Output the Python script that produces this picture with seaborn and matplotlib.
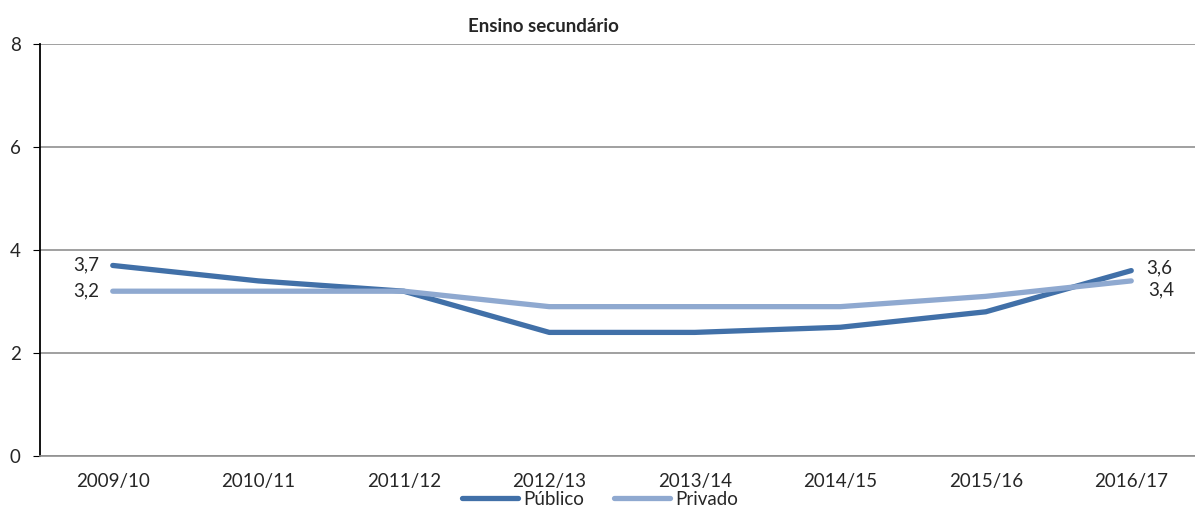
import pandas as pd
import seaborn as sns
import matplotlib.pyplot as plt
from matplotlib.ticker import FixedLocator

# Data
anos = ['2009/10', '2010/11', '2011/12', '2012/13', '2013/14', '2014/15', '2015/16', '2016/17']
publico = [3.7, 3.4, 3.2, 2.4, 2.4, 2.5, 2.8, 3.6]
privado = [3.2, 3.2, 3.2, 2.9, 2.9, 2.9, 3.1, 3.4]

df = pd.DataFrame({
    'pos': list(range(len(anos))) * 2,
    'valor': publico + privado,
    'setor': ['Público'] * len(anos) + ['Privado'] * len(anos),
})

sns.set_style('white')
plt.rcParams['font.family'] = ['Lato', 'DejaVu Sans']

fig = plt.figure(figsize=(11.95, 5.11), dpi=100)
ax = fig.add_axes([40 / 1195, 55 / 511, 1164 / 1195, 412 / 511])

sns.lineplot(data=df, x='pos', y='valor', hue='setor',
             palette={'Público': '#4170a8', 'Privado': '#8fa9d0'},
             linewidth=3.8, ax=ax, legend=False, zorder=3)
for line in ax.get_lines():
    line.set_solid_capstyle('round')
    line.set_solid_joinstyle('round')

fs = 13.5
ax.set_xlim(-0.5, len(anos) - 0.5)
ax.set_ylim(0, 8)
ax.set_yticks([0, 2, 4, 6, 8])
ax.set_yticklabels(['0', '2', '4', '6', '8'], fontsize=fs)
ax.set_xticks(range(len(anos)))
ax.set_xticklabels(anos, fontsize=fs)
ax.tick_params(axis='x', which='major', length=0, pad=12)
ax.xaxis.set_minor_locator(FixedLocator([i + 0.5 for i in range(-1, len(anos))]))
ax.tick_params(axis='x', which='minor', length=5, color='#909090', direction='out')
ax.tick_params(axis='y', length=5, color='black', direction='out', left=True, pad=9)
ax.set_xlabel('')
ax.set_ylabel('')

ax.yaxis.grid(True, color='#909090', linewidth=1.2)
ax.set_axisbelow(True)
for s in ['top', 'right']:
    ax.spines[s].set_visible(False)
ax.spines['left'].set_color('black')
ax.spines['left'].set_linewidth(1.3)
ax.spines['bottom'].set_color('#909090')
ax.spines['bottom'].set_linewidth(1.2)

# value labels at both ends
ax.text(-0.09, publico[0] + 0.02, '3,7', ha='right', va='center', fontsize=fs)
ax.text(-0.09, privado[0], '3,2', ha='right', va='center', fontsize=fs)
ax.text(7.1, publico[-1] + 0.05, '3,6', ha='left', va='center', fontsize=fs)
ax.text(7.12, privado[-1] - 0.17, '3,4', ha='left', va='center', fontsize=fs)

fig.text(543 / 1195, 1 - 26 / 511, 'Ensino secundário', ha='center', va='center',
         fontsize=13.5, fontweight='bold')

handles = [plt.Line2D([], [], color='#4170a8', lw=3.8, solid_capstyle='round'),
           plt.Line2D([], [], color='#8fa9d0', lw=3.8, solid_capstyle='round')]
fig.legend(handles, ['Público', 'Privado'], loc='center', bbox_to_anchor=(600 / 1195, 1 - 499 / 511),
           ncol=2, frameon=False, fontsize=fs, handlelength=3.0, handletextpad=0.25,
           columnspacing=1.6, borderpad=0)

fig.savefig('out.png', dpi=100)
